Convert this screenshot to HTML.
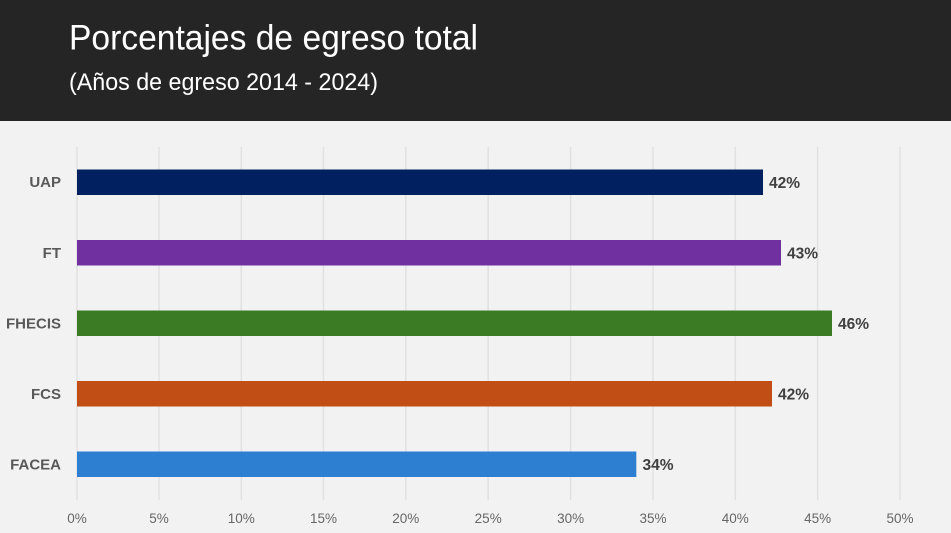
<!DOCTYPE html>
<html><head><meta charset="utf-8"><style>
html,body{margin:0;padding:0;background:#f2f2f2;}
svg{display:block;}
</style></head><body>
<svg width="951" height="533" viewBox="0 0 951 533" xmlns="http://www.w3.org/2000/svg" font-family="Liberation Sans, Arial, sans-serif">
<rect x="0" y="0" width="951" height="533" fill="#f2f2f2"/>
<rect x="0" y="0" width="951" height="121" fill="#252525"/>
<text x="69" y="49.5" font-size="35" fill="#ffffff" textLength="409" lengthAdjust="spacingAndGlyphs">Porcentajes de egreso total</text>
<text x="69" y="90" font-size="24" fill="#ffffff" textLength="309" lengthAdjust="spacingAndGlyphs">(Años de egreso 2014 - 2024)</text>
<g stroke="#e1e1e1" stroke-width="1.5">
<line x1="77" y1="147" x2="77" y2="500"/>
<line x1="159" y1="147" x2="159" y2="500"/>
<line x1="241.3" y1="147" x2="241.3" y2="500"/>
<line x1="323.5" y1="147" x2="323.5" y2="500"/>
<line x1="405.8" y1="147" x2="405.8" y2="500"/>
<line x1="488.2" y1="147" x2="488.2" y2="500"/>
<line x1="570.6" y1="147" x2="570.6" y2="500"/>
<line x1="653" y1="147" x2="653" y2="500"/>
<line x1="735.3" y1="147" x2="735.3" y2="500"/>
<line x1="817.6" y1="147" x2="817.6" y2="500"/>
<line x1="900" y1="147" x2="900" y2="500"/>
</g>
<g font-size="13.5" fill="#666666" text-anchor="middle">
<text x="77" y="523">0%</text>
<text x="159" y="523">5%</text>
<text x="241.3" y="523">10%</text>
<text x="323.5" y="523">15%</text>
<text x="405.8" y="523">20%</text>
<text x="488.2" y="523">25%</text>
<text x="570.6" y="523">30%</text>
<text x="653" y="523">35%</text>
<text x="735.3" y="523">40%</text>
<text x="817.6" y="523">45%</text>
<text x="900" y="523">50%</text>
</g>
<g>
<rect x="77" y="169.5" width="686" height="25.5" fill="#00205f"/>
<rect x="77" y="240" width="704" height="25.5" fill="#7030a0"/>
<rect x="77" y="310.5" width="755" height="25.5" fill="#3b7b24"/>
<rect x="77" y="381" width="695" height="25.5" fill="#c14f15"/>
<rect x="77" y="451.5" width="559.3" height="25.5" fill="#2d7fd1"/>
</g>
<g font-size="15" font-weight="bold" fill="#595959" text-anchor="end">
<text x="61" y="187">UAP</text>
<text x="61" y="258">FT</text>
<text x="61" y="328.5">FHECIS</text>
<text x="61" y="399">FCS</text>
<text x="61" y="469.5">FACEA</text>
</g>
<g font-size="15.5" font-weight="bold" fill="#404040">
<text x="769" y="188">42%</text>
<text x="787" y="258.5">43%</text>
<text x="838" y="329">46%</text>
<text x="778" y="399.5">42%</text>
<text x="642.5" y="470">34%</text>
</g>
</svg>
</body></html>
